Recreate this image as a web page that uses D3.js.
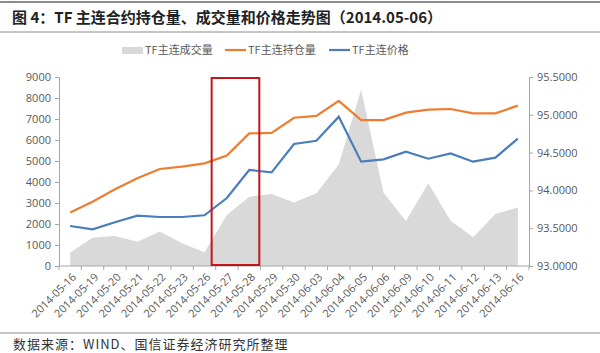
<!DOCTYPE html>
<html>
<head>
<meta charset="utf-8">
<script src="https://cdn.jsdelivr.net/npm/d3@7"></script>
<style>
  body { margin: 0; background: #fff; }
  svg { display: block; font-family: "Noto Sans CJK SC", "Noto Sans", sans-serif; }
</style>
</head>
<body>
<svg id="chart" width="600" height="353"></svg>
<script>
const dates = ["2014-05-16", "2014-05-19", "2014-05-20", "2014-05-21", "2014-05-22", "2014-05-23",
    "2014-05-26", "2014-05-27", "2014-05-28", "2014-05-29", "2014-05-30", "2014-06-03", "2014-06-04",
    "2014-06-05", "2014-06-06", "2014-06-09", "2014-06-10", "2014-06-11", "2014-06-12", "2014-06-13",
    "2014-06-16"];

// 成交量 (left axis)
const volume = [640, 1350, 1430, 1160, 1640, 1080, 650, 2430, 3300, 3430, 3020, 3460, 4830,
    8410, 3490, 2140, 3940, 2160, 1370, 2480, 2790];

// 持仓量 (left axis)
const openInterest = [2545, 3060, 3650, 4175, 4620, 4730, 4890, 5255, 6315, 6335, 7060, 7145, 7865,
    6950, 6950, 7300, 7445, 7475, 7270, 7270, 7635];

// 价格 (right axis)
const price = [93.529, 93.485, 93.578, 93.666, 93.648, 93.648, 93.671, 93.899, 94.270, 94.239,
    94.614, 94.657, 94.975, 94.380, 94.411, 94.512, 94.419, 94.490, 94.380, 94.433, 94.685];

const leftTicks = [0, 1000, 2000, 3000, 4000, 5000, 6000, 7000, 8000, 9000];
const rightTicks = [93.0, 93.5, 94.0, 94.5, 95.0, 95.5];
const highlight = ["2014-05-27", "2014-05-28"];

const seriesNames = ["TF主连成交量", "TF主连持仓量", "TF主连价格"];
const colors = {volume: "#d9d9d9", oi: "#ed7d31", price: "#4a7ebb", box: "#c0161c", text: "#595959", axis: "#a6a6a6"};

const svg = d3.select("#chart");
const margin = {top: 77, right: 71, bottom: 87, left: 59};
const width = 600 - margin.left - margin.right;
const height = 353 - margin.top - margin.bottom;

// header and footer rules
svg.append("line").attr("x1", 0).attr("x2", 600).attr("y1", 2).attr("y2", 2)
    .attr("stroke", "#8c8c8c").attr("stroke-width", 2);
svg.append("line").attr("x1", 0).attr("x2", 600).attr("y1", 32).attr("y2", 32)
    .attr("stroke", "#8c8c8c").attr("stroke-width", 1);
svg.append("line").attr("x1", 0).attr("x2", 600).attr("y1", 333).attr("y2", 333)
    .attr("stroke", "#8c8c8c").attr("stroke-width", 1);

svg.append("text")
    .attr("x", 12).attr("y", 23)
    .style("font-size", "15px").style("font-weight", "bold").attr("fill", "#222")
    .text("图 4：TF 主连合约持仓量、成交量和价格走势图（2014.05-06）");

svg.append("text")
    .attr("x", 13).attr("y", 349)
    .style("font-size", "13px").style("letter-spacing", "1px").attr("fill", "#333")
    .text("数据来源：WIND、国信证券经济研究所整理");

const g = svg.append("g").attr("transform", `translate(${margin.left},${margin.top})`);

const x = d3.scaleBand().domain(dates).range([0, width]);
const cx = d => x(d) + x.bandwidth() / 2;
const yL = d3.scaleLinear().domain([0, 9000]).range([height, 0]);
const yR = d3.scaleLinear().domain([93, 95.5]).range([height, 0]);

// volume area
g.append("path")
    .datum(dates.map((d, i) => [d, volume[i]]))
    .attr("fill", colors.volume)
    .attr("d", d3.area().x(d => cx(d[0])).y0(height).y1(d => yL(d[1])));

// open interest line
g.append("path")
    .datum(dates.map((d, i) => [d, openInterest[i]]))
    .attr("fill", "none").attr("stroke", colors.oi).attr("stroke-width", 2.2)
    .attr("d", d3.line().x(d => cx(d[0])).y(d => yL(d[1])));

// price line
g.append("path")
    .datum(dates.map((d, i) => [d, price[i]]))
    .attr("fill", "none").attr("stroke", colors.price).attr("stroke-width", 2.2)
    .attr("d", d3.line().x(d => cx(d[0])).y(d => yR(d[1])));

// left axis
const axL = g.append("g")
    .call(d3.axisLeft(yL).tickValues(leftTicks).tickSize(4).tickSizeOuter(0).tickFormat(d3.format("d")));
axL.select(".domain").attr("stroke", colors.axis);
axL.selectAll(".tick line").attr("stroke", colors.axis);
axL.selectAll(".tick text").attr("fill", colors.text).style("font-size", "11px").attr("x", -8)
    .style("font-family", "Open Sans, sans-serif");

// right axis
const axR = g.append("g").attr("transform", `translate(${width},0)`)
    .call(d3.axisRight(yR).tickValues(rightTicks).tickSize(4).tickSizeOuter(0).tickFormat(d3.format(".4f")));
axR.select(".domain").attr("stroke", colors.axis);
axR.selectAll(".tick line").attr("stroke", colors.axis);
axR.selectAll(".tick text").attr("fill", colors.text).style("font-size", "11px").attr("x", 8)
    .style("font-family", "Open Sans, sans-serif");

// bottom axis: ticks at band boundaries
const axB = g.append("g").attr("transform", `translate(0,${height})`);
axB.append("line").attr("x1", 0).attr("x2", width).attr("stroke", colors.axis);
axB.selectAll(".bt").data(dates.concat(["end"])).join("line")
    .attr("class", "bt")
    .attr("x1", (d, i) => i < dates.length ? x(d) : width)
    .attr("x2", (d, i) => i < dates.length ? x(d) : width)
    .attr("y1", 0).attr("y2", 4).attr("stroke", colors.axis);
axB.selectAll(".lbl").data(dates).join("text")
    .attr("class", "lbl")
    .attr("transform", d => `translate(${cx(d) + 4},${9}) rotate(-45)`)
    .attr("text-anchor", "end").attr("dy", "0.35em")
    .attr("fill", colors.text).style("font-size", "11px")
    .style("font-family", "Open Sans, sans-serif")
    .text(d => d);

// highlight box
const bw = x.bandwidth();
g.append("rect")
    .attr("x", cx(highlight[0]) - bw * 0.68)
    .attr("y", 1)
    .attr("width", cx(highlight[1]) + bw * 0.45 - (cx(highlight[0]) - bw * 0.68))
    .attr("height", height - 2)
    .attr("fill", "none").attr("stroke", colors.box).attr("stroke-width", 2);

// legend
const legend = svg.append("g").attr("transform", "translate(0,50)");
const legendItems = [
    {name: seriesNames[0], type: "rect", color: colors.volume, x: 122},
    {name: seriesNames[1], type: "line", color: colors.oi, x: 225},
    {name: seriesNames[2], type: "line", color: colors.price, x: 329}
];
legendItems.forEach(it => {
    if (it.type === "rect") {
        legend.append("rect").attr("x", it.x).attr("y", -3).attr("width", 21).attr("height", 7).attr("fill", it.color);
    } else {
        legend.append("line").attr("x1", it.x).attr("x2", it.x + 21).attr("y1", 0).attr("y2", 0)
            .attr("stroke", it.color).attr("stroke-width", 2.2);
    }
    legend.append("text").attr("x", it.x + 23).attr("y", 0).attr("dy", "0.35em")
        .attr("fill", colors.text).style("font-size", "11px").text(it.name);
});
</script>
</body>
</html>
